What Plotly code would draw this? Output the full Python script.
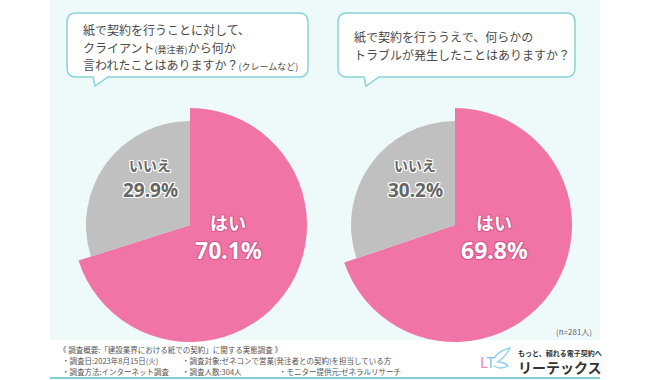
import plotly.graph_objects as go

# ---- data ----
answer_labels = ["はい", "いいえ"]
yes_values = [70.1, 69.8]
no_values = [29.9, 30.2]
questions = [
    ["紙で契約を行うことに対して、",
     "クライアント<span style='font-size:9px'>(発注者)</span>から何か",
     "言われたことはありますか？<span style='font-size:9px'>(クレームなど)</span>"],
    ["紙で契約を行ううえで、何らかの",
     "トラブルが発生したことはありますか？"],
]
sample_note = "(n=281人)"
survey_lines = [
    "《 調査概要:「建設業界における紙での契約」に関する実態調査 》",
    "・調査日:2023年8月15日(火)",
    "・調査対象:ゼネコンで営業(発注者との契約)を担当している方",
    "・調査方法:インターネット調査",
    "・調査人数:304人",
    "・モニター提供元:ゼネラルリサーチ",
]

W, H = 650, 380
PINK = "#F075A6"
GRAY = "#C0C0C0"
TEAL = "#86D4D6"
TXT = "#4a4a4a"
JP = "Noto Sans CJK JP"
NUM = "Noto Sans"

fig = go.Figure()

# pie geometry (pixels)
centers = [(190, 225), (455, 225)]
R_big, R_small = 117, 104


def dom(cx, cy, r):
    return dict(x=[(cx - r) / W, (cx + r) / W], y=[1 - (cy + r) / H, 1 - (cy - r) / H])


for i, (cx, cy) in enumerate(centers):
    vals = [yes_values[i], no_values[i]]
    fig.add_trace(go.Pie(
        labels=answer_labels, values=vals, sort=False, direction="clockwise", rotation=0,
        marker=dict(colors=[PINK, "rgba(0,0,0,0)"], line=dict(width=0)),
        textinfo="none", hoverinfo="skip", showlegend=False, domain=dom(cx, cy, R_big)))
    fig.add_trace(go.Pie(
        labels=answer_labels, values=vals, sort=False, direction="clockwise", rotation=0,
        marker=dict(colors=["rgba(0,0,0,0)", GRAY], line=dict(width=0)),
        textinfo="none", hoverinfo="skip", showlegend=False, domain=dom(cx, cy, R_small)))

shapes = []
# panel background
shapes.append(dict(type="rect", xref="x", yref="y", x0=50, x1=600, y0=0, y1=340,
                   fillcolor="#eefafa", line=dict(width=0), layer="below"))
shapes.append(dict(type="line", xref="x", yref="y", x0=50, x1=600, y0=378, y1=378,
                   line=dict(color="#7fcfd1", width=2), layer="below"))


def bubble(x0, y0, x1, y1, r, t0, t1, tx, ty):
    return (f"M {x0+r},{y0} L {x1-r},{y0} Q {x1},{y0} {x1},{y0+r} L {x1},{y1-r} "
            f"Q {x1},{y1} {x1-r},{y1} L {t1},{y1} L {tx},{ty} L {t0},{y1} "
            f"L {x0+r},{y1} Q {x0},{y1} {x0},{y1-r} L {x0},{y0+r} Q {x0},{y0} {x0+r},{y0} Z")


for (x0, x1, t0, t1, tx) in [(67, 308, 93, 108, 95), (338, 575, 364, 379, 366)]:
    shapes.append(dict(type="path", xref="x", yref="y",
                       path=bubble(x0, 13, x1, 77, 9, t0, t1, tx, 86),
                       fillcolor="white", line=dict(color=TEAL, width=1.5), layer="below"))

# logo wing
shapes.append(dict(type="path", xref="x", yref="y",
                   path="M 494,358 Q 500,350 510,348 Q 506,356 498,362 Q 504,362 508,366 Q 500,370 494,366",
                   fillcolor="rgba(0,0,0,0)", line=dict(color="#8fd0ea", width=1.3)))

ann = []
# question text
q_y = [[29, 47, 64], [36, 54]]
q_x = [81, 352]
for qi, lines in enumerate(questions):
    for li, line in enumerate(lines):
        ann.append(dict(x=q_x[qi], y=q_y[qi][li], xref="x", yref="y", text=line,
                        showarrow=False, xanchor="left", yanchor="middle",
                        font=dict(family=JP, size=12, color=TXT)))

white_outline = ("1px 1px 0 #fff, -1px -1px 0 #fff, 1px -1px 0 #fff, -1px 1px 0 #fff, "
                 "0 1px 0 #fff, 0 -1px 0 #fff, 1px 0 0 #fff, -1px 0 0 #fff")
pink_outline = "1px 1px 0 #d9588f, -1px -1px 0 #d9588f, 1px -1px 0 #d9588f, -1px 1px 0 #d9588f"

no_pos = [(150, 165, 190), (415, 165, 190)]
yes_pos = [(228, 222, 250), (494, 222, 250)]
for i in range(2):
    x, y1, y2 = no_pos[i]
    ann.append(dict(x=x, y=y1, xref="x", yref="y", text=f"<b>{answer_labels[1]}</b>", showarrow=False,
                    font=dict(family=JP, size=14, color="#666666", shadow=white_outline)))
    ann.append(dict(x=x, y=y2, xref="x", yref="y", text=f"<b>{no_values[i]:.1f}%</b>", showarrow=False,
                    font=dict(family=NUM, size=19, color="#666666", shadow=white_outline)))
    x, y1, y2 = yes_pos[i]
    ann.append(dict(x=x, y=y1, xref="x", yref="y", text=f"<b>{answer_labels[0]}</b>", showarrow=False,
                    font=dict(family=JP, size=18, color="white", shadow=pink_outline)))
    ann.append(dict(x=x, y=y2, xref="x", yref="y", text=f"<b>{yes_values[i]:.1f}%</b>", showarrow=False,
                    font=dict(family=NUM, size=23, color="white", shadow=pink_outline)))

ann.append(dict(x=594, y=331, xref="x", yref="y", text=sample_note, showarrow=False,
                xanchor="right", font=dict(family=JP, size=8, color="#666")))

# survey notes
survey_pos = [(57, 349), (60, 360), (180, 360), (60, 371), (180, 371), (277, 371)]
for t, (x, y) in zip(survey_lines, survey_pos):
    ann.append(dict(x=x, y=y, xref="x", yref="y", text=t, showarrow=False, xanchor="left",
                    font=dict(family=JP, size=7.5, color="#555")))

# logo
ann.append(dict(x=487, y=362, xref="x", yref="y",
                text="<span style='color:#f08cb5'>L</span><span style='color:#7fc7e8'>T</span>",
                showarrow=False, font=dict(family="Lato", size=15, color="#f08cb5")))
ann.append(dict(x=516, y=353, xref="x", yref="y", text="<b>もっと、頼れる電子契約へ</b>", showarrow=False,
                xanchor="left", font=dict(family=JP, size=7, color="#333")))
ann.append(dict(x=516, y=367, xref="x", yref="y", text="<b>リーテックス</b>", showarrow=False,
                xanchor="left", font=dict(family=JP, size=14, color="#333")))

fig.update_layout(
    width=W, height=H, margin=dict(l=0, r=0, t=0, b=0),
    paper_bgcolor="white", plot_bgcolor="rgba(0,0,0,0)",
    xaxis=dict(range=[0, W], visible=False, fixedrange=True, domain=[0, 1]),
    yaxis=dict(range=[H, 0], visible=False, fixedrange=True, domain=[0, 1]),
    shapes=shapes, annotations=ann, showlegend=False,
)

fig.write_html("out.html", config={"displayModeBar": False, "staticPlot": True},
               post_script="document.body.style.margin='0';document.body.style.overflow='hidden';")
